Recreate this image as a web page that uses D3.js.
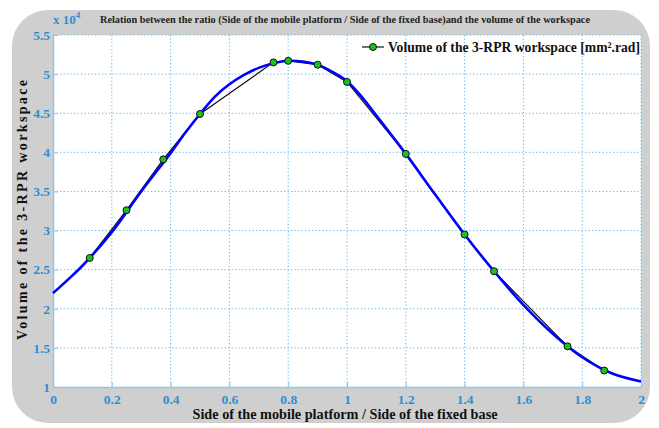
<!DOCTYPE html>
<html><head><meta charset="utf-8">
<script src="https://cdn.jsdelivr.net/npm/d3@7"></script>
<style>html,body{margin:0;padding:0;background:#fff;}svg{display:block;}</style>
</head><body>
<script>
const titleText = "Relation between the ratio (Side of the mobile platform / Side of the fixed base)and the volume of the workspace";
const xLabel = "Side of the mobile platform / Side of the fixed base";
const yLabel = "Volume of the 3-RPR workspace";
const legendLabel = "Volume of the 3-RPR workspace [mm\u00B2.rad]";
const xTicks = [0, 0.2, 0.4, 0.6, 0.8, 1, 1.2, 1.4, 1.6, 1.8, 2];
const yTicks = [1, 1.5, 2, 2.5, 3, 3.5, 4, 4.5, 5, 5.5];
// measured points (x 10^4)
const ptX = [0.125, 0.25, 0.375, 0.5, 0.75, 0.8, 0.9, 1.0, 1.2, 1.4, 1.5, 1.75, 1.875];
const ptY = [2.65, 3.26, 3.91, 4.49, 5.15, 5.17, 5.12, 4.90, 3.98, 2.95, 2.48, 1.52, 1.21];
// fitted curve (x 10^4)
const fitX = [0, 0.05, 0.1, 0.2, 0.3, 0.4, 0.45, 0.5, 0.55, 0.6, 0.65, 0.7, 0.75, 0.8, 0.85, 0.9, 0.95, 1.0, 1.05, 1.1, 1.2, 1.3, 1.4, 1.5, 1.6, 1.7, 1.8, 1.9, 2.0];
const fitY = [2.2, 2.37, 2.55, 2.98, 3.50, 3.99, 4.25, 4.49, 4.71, 4.87, 4.99, 5.08, 5.14, 5.17, 5.16, 5.12, 5.03, 4.91, 4.71, 4.47, 3.98, 3.46, 2.95, 2.48, 2.05, 1.68, 1.38, 1.175, 1.07];

const W = 659, H = 428;
const m = {left: 53, top: 35, right: 641, bottom: 387};
const svg = d3.select("body").append("svg").attr("width", W).attr("height", H);

svg.append("rect").attr("x", 12).attr("y", 10).attr("width", 638).attr("height", 413)
  .attr("rx", 36).attr("ry", 36).attr("fill", "#cfcfcf");

const x = d3.scaleLinear().domain([0, 2]).range([m.left, m.right]);
const y = d3.scaleLinear().domain([1, 5.5]).range([m.bottom, m.top]);

svg.append("rect").attr("x", m.left).attr("y", m.top)
  .attr("width", m.right - m.left).attr("height", m.bottom - m.top).attr("fill", "#fff");

const gridColor = "#6bb8e6";
const axisColor = "#8cc6ea";
const tickColor = "#2e8fd4";
const serif = "'Liberation Serif', 'DejaVu Serif', serif";

// grid
svg.append("g").selectAll("line").data(xTicks.slice(1)).join("line")
  .attr("x1", d => x(d)).attr("x2", d => x(d)).attr("y1", m.top).attr("y2", m.bottom)
  .attr("stroke", gridColor).attr("stroke-width", 1).attr("stroke-dasharray", "1.3,2.2");
svg.append("g").selectAll("line").data(yTicks.slice(1)).join("line")
  .attr("y1", d => y(d)).attr("y2", d => y(d)).attr("x1", m.left).attr("x2", m.right)
  .attr("stroke", gridColor).attr("stroke-width", 1).attr("stroke-dasharray", "1.3,2.2");

// axes
const xAxis = d3.axisBottom(x).tickValues(xTicks).tickFormat(d3.format("")).tickSizeInner(-5).tickSizeOuter(0).tickPadding(7);
const gx = svg.append("g").attr("transform", `translate(0,${m.bottom})`).call(xAxis);
const yAxis = d3.axisLeft(y).tickValues(yTicks).tickFormat(d3.format("")).tickSizeInner(-5).tickSizeOuter(0).tickPadding(3);
const gy = svg.append("g").attr("transform", `translate(${m.left},0)`).call(yAxis);
[gx, gy].forEach(g => {
  g.select(".domain").attr("stroke", axisColor).attr("stroke-width", 1.5);
  g.selectAll(".tick line").attr("stroke", axisColor);
  g.selectAll(".tick text").attr("fill", tickColor).attr("font-family", serif)
    .attr("font-weight", "bold").attr("font-size", 13.5);
});
gx.selectAll(".tick text").attr("dy", "0.71em");
gy.selectAll(".tick text").attr("dy", "0.32em");

// x 10^4
const mult = svg.append("text").attr("x", 53).attr("y", 24).attr("fill", tickColor)
  .attr("font-family", serif).attr("font-weight", "bold").attr("font-size", 13);
mult.append("tspan").text("x 10");
mult.append("tspan").attr("dy", -6).attr("font-size", 9).text("4");

// title
svg.append("text").attr("x", 100).attr("y", 23).attr("fill", "#222")
  .attr("font-family", serif).attr("font-weight", "bold").attr("font-size", 11)
  .attr("textLength", 490).attr("lengthAdjust", "spacingAndGlyphs").text(titleText);

// axis labels
svg.append("text").attr("x", 345).attr("y", 419).attr("text-anchor", "middle").attr("fill", "#111")
  .attr("font-family", serif).attr("font-weight", "bold").attr("font-size", 14.5)
  .attr("textLength", 305).attr("lengthAdjust", "spacingAndGlyphs").text(xLabel);
svg.append("text").attr("transform", "translate(27,210) rotate(-90)").attr("text-anchor", "middle")
  .attr("fill", "#111").attr("font-family", serif).attr("font-weight", "bold").attr("font-size", 14)
  .attr("textLength", 260).attr("lengthAdjust", "spacing").text(yLabel);

// black polyline through points
const pts = ptX.map((d, i) => [d, ptY[i]]);
const fit = fitX.map((d, i) => [d, fitY[i]]);
svg.append("path").datum(pts).attr("fill", "none").attr("stroke", "#111").attr("stroke-width", 1.2)
  .attr("d", d3.line().x(d => x(d[0])).y(d => y(d[1])));
svg.append("path").datum(fit).attr("fill", "none").attr("stroke", "#0000ff").attr("stroke-width", 2.6)
  .attr("d", d3.line().curve(d3.curveCatmullRom.alpha(0.5)).x(d => x(d[0])).y(d => y(d[1])));
svg.append("g").selectAll("circle").data(pts).join("circle")
  .attr("cx", d => x(d[0])).attr("cy", d => y(d[1])).attr("r", 3.5)
  .attr("fill", "#1fbf1f").attr("stroke", "#111").attr("stroke-width", 1);

// legend
svg.append("line").attr("x1", 362).attr("x2", 384).attr("y1", 47).attr("y2", 47).attr("stroke", "#111").attr("stroke-width", 1.2);
svg.append("circle").attr("cx", 373).attr("cy", 47).attr("r", 3.5).attr("fill", "#1fbf1f").attr("stroke", "#111");
svg.append("text").attr("x", 388).attr("y", 52).attr("fill", "#111").attr("font-family", serif)
  .attr("font-weight", "bold").attr("font-size", 14)
  .attr("textLength", 252).attr("lengthAdjust", "spacingAndGlyphs").text(legendLabel);
</script>
</body></html>
